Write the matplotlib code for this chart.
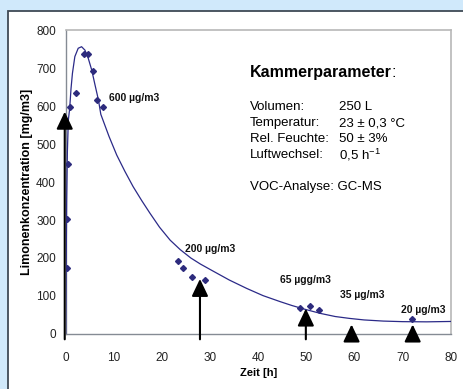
import matplotlib
matplotlib.use("Agg")
import matplotlib.pyplot as plt
from matplotlib.patches import Rectangle

plt.rcParams['font.family'] = ['Liberation Sans', 'DejaVu Sans']
plt.rcParams['mathtext.fontset'] = 'custom'
plt.rcParams['mathtext.rm'] = 'Liberation Sans'
plt.rcParams['mathtext.it'] = 'Liberation Sans:italic'
plt.rcParams['mathtext.bf'] = 'Liberation Sans:bold'

# measured points
pts_x = [0.17, 0.25, 0.4, 0.9, 2.1, 3.7, 4.7, 5.6, 6.6, 7.8, 23.3, 24.4, 26.2, 28.9, 48.6, 50.7, 52.6, 72.0]
pts_y = [175, 303, 447, 597, 634, 736, 736, 693, 617, 598, 191, 175, 151, 141, 68, 74, 64, 39]

# model curve
curve_x = [0, 0.08, 0.2, 0.35, 0.55, 0.83, 1.1, 1.4, 1.9, 2.6, 3.3, 4.0, 4.7, 5.4, 6.1, 6.8, 7.3,
           9.0, 10.6, 12.3, 14.0, 15.8, 17.5, 19.5, 21.7, 23.8, 26.0, 28.0, 30.7, 34.0, 37.6, 41.0,
           44.6, 47.0, 50.0, 53.0, 56.0, 59.0, 62.0, 66.0, 70.0, 75.0, 80.0]
curve_y = [0, 150, 350, 480, 563, 594, 645, 686, 730, 752, 756, 747, 725, 695, 655, 616, 578,
           520, 471, 428, 388, 351, 318, 281, 247, 222, 200, 184, 165, 142, 120, 101,
           85, 75, 64, 54, 46, 41, 37, 34, 32.5, 32, 33]

# arrows (position, tip height)
arrow_x = [-0.2, 27.9, 49.9, 59.4, 72.1]
arrow_tip = [585, 145, 67, 25, 25]

# concentration labels
lab_text = ["600 µg/m3", "200 µg/m3", "65 µgg/m3", "35 µg/m3", "20 µg/m3"]
lab_x = [9.1, 24.8, 44.5, 57.0, 69.6]
lab_y = [620, 223, 141, 102, 62]

xticks = [0, 10, 20, 30, 40, 50, 60, 70, 80]
yticks = [0, 100, 200, 300, 400, 500, 600, 700, 800]

param_names = ["Volumen:", "Temperatur:", "Rel. Feuchte:", "Luftwechsel:"]
param_vals = ["250 L", "23 ± 0,3 °C", "50 ± 3%", "0,5 h$^{-1}$"]

W, H = 463, 389
fig = plt.figure(figsize=(W / 100, H / 100), dpi=100)
fig.patch.set_facecolor('#d0e9fb')

panel = Rectangle((8 / W, -0.1), 1.2, 1 - 11 / H + 0.1, transform=fig.transFigure,
                  facecolor='white', edgecolor='#3f4a55', linewidth=1.3, zorder=-5)
fig.patches.append(panel)

ax = fig.add_axes([65.7 / W, 1 - 334 / H, 385 / W, 304 / H])
ax.set_zorder(1)
ax.set_facecolor('none')
ax.set_xlim(0, 80)
ax.set_ylim(0, 800)
ax.set_xticks(xticks)
ax.set_yticks(yticks)
ax.tick_params(length=0, labelsize=8.5, labelcolor='#222222')
ax.tick_params(axis='y', pad=7)
ax.tick_params(axis='x', pad=13)
for s in ['top', 'right']:
    ax.spines[s].set_color('#b8b8b8')
    ax.spines[s].set_linewidth(1.2)
for s in ['bottom', 'left']:
    ax.spines[s].set_color('#858b94')
    ax.spines[s].set_linewidth(1.0)

ax.plot(curve_x, curve_y, color='#2b2a88', lw=0.9, zorder=3)
ax.plot(pts_x, pts_y, linestyle='none', marker='D', ms=3.0, color='#2d2b7d', zorder=4)

for x, tip in zip(arrow_x, arrow_tip):
    ax.annotate('', xy=(x, tip), xytext=(x, -14),
                arrowprops=dict(arrowstyle='-|>,head_length=1.05,head_width=0.5',
                                color='black', lw=1.5, shrinkA=0, shrinkB=0,
                                mutation_scale=10),
                zorder=5, annotation_clip=False)

for t, x, y in zip(lab_text, lab_x, lab_y):
    ax.text(x, y, t, fontsize=7.5, fontweight='bold', ha='left', va='center', color='#111111')

ax.set_xlabel("Zeit [h]", fontsize=8, fontweight='bold', labelpad=3)
ax.set_ylabel("Limonenkonzentration [mg/m3]", fontsize=9, fontweight='bold', labelpad=2)

k = ax.text(38.3, 687, "Kammerparameter", fontsize=11.5, fontweight='bold', ha='left', va='center')
ax.annotate(":", xy=(1, 0.5), xycoords=k, fontsize=11.5, ha='left', va='center')

row_y = [597, 554, 512, 471]
for name, val, y in zip(param_names, param_vals, row_y):
    ax.text(38.3, y, name, fontsize=9.5, ha='left', va='center')
    ax.text(56.8, y, val, fontsize=9.5, ha='left', va='center')
ax.text(38.3, 386, "VOC-Analyse: GC-MS", fontsize=9.5, ha='left', va='center')

fig.savefig("out.png", dpi=100)
